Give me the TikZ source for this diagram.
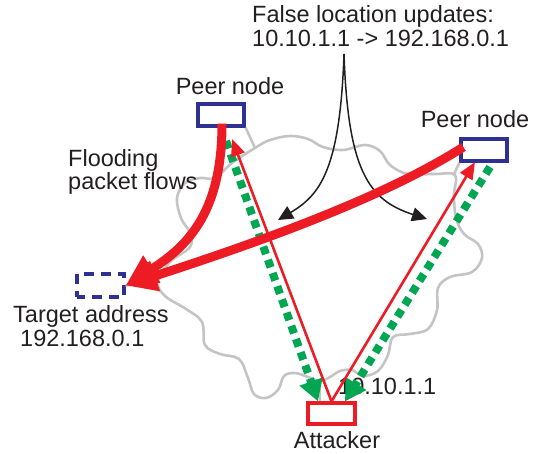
\documentclass[tikz,border=0pt]{standalone}
\usepackage{fontspec}
\setmainfont{Liberation Sans}
\usetikzlibrary{arrows.meta}
\definecolor{floodred}{HTML}{ED1C24}
\definecolor{ackgreen}{HTML}{00A651}
\definecolor{peerblue}{HTML}{2E3192}
\definecolor{cloudgray}{HTML}{C4C4C4}
\definecolor{ink}{HTML}{231F20}
\begin{document}
\begin{tikzpicture}[x=1pt,y=-1pt,
  txt/.style={font=\fontsize{23.5}{24}\selectfont, text=ink, inner sep=0pt},
  peerbox/.style={draw=peerblue, line width=3.2pt, fill=white, minimum width=46pt, minimum height=22pt, inner sep=0pt},
  targetbox/.style={draw=peerblue, line width=3.2pt, dash pattern=on 10pt off 7pt, dash phase=2pt, minimum width=47pt, minimum height=23pt, inner sep=0pt},
  attackbox/.style={draw=floodred, line width=3.2pt, fill=white, minimum width=47pt, minimum height=21pt, inner sep=0pt},
  cloudline/.style={draw=cloudgray, line width=2.6pt},
  update/.style={draw=ink, line width=1.5pt, -{Triangle[length=15pt,width=14pt]}},
  reply/.style={draw=ackgreen, line width=8pt, dash pattern=on 8pt off 6pt, -{Triangle[length=21pt,width=23pt]}},
  spoof/.style={draw=floodred, line width=2.6pt, -{Triangle[length=17pt,width=14pt]}},
  flood/.style={draw=floodred, line width=9pt, -{Triangle[length=31pt,width=30pt]}}
]
\useasboundingbox (0,0) rectangle (541,454);

% overlay network outline
\draw[cloudline] plot[smooth cycle, tension=0.6] coordinates {
  (215,178) (232,163) (255,148) (270,140) (290,136) (308,139) (323,147)
  (343,150) (365,145) (380,151) (390,165) (408,174) (435,174) (455,175)
  (454,195) (456,218) (464,234) (478,244) (482,258) (472,272) (450,277)
  (438,288) (437,310) (428,329) (410,334) (393,337) (388,355) (378,371)
  (363,376) (352,370) (340,371) (330,377) (320,381) (308,377) (295,373)
  (284,376) (278,390) (266,398) (254,394) (248,378) (239,359) (220,354)
  (205,345) (202,322) (186,309) (165,296) (158,282) (170,262) (190,247)
  (190,233) (181,218) (177,198) (185,183) (200,178)};
\coordinate (c1) at (255,148);
\coordinate (c2) at (454,174);
\coordinate (c3) at (158,282);
\coordinate (c4) at (320,381);

% nodes
\node[peerbox] (p1) at (221,115) {};
\node[peerbox] (p2) at (484,150) {};
\node[targetbox] (t) at (100.5,285.5) {};
\node[attackbox] (a) at (331.5,413.5) {};

% attachments to the overlay
\draw[cloudline] (p1.south east) -- (c1);
\draw[cloudline] (p2.south west) -- (c2);
\draw[cloudline] (t.east) -- (c3);
\draw[cloudline] (c4) -- (a.north -| c4);

% labels
\node[txt, anchor=base] (l1) at (230,95) {Peer node};
\node[txt, anchor=base] (l2) at (475,128) {Peer node};
\node[txt, anchor=base west] (u1) at (252,23) {False location updates:};
\node[txt, anchor=base west] (u2) at (252,47) {10.10.1.1 -> 192.168.0.1};
\node[txt, anchor=base west] (f1) at (68,167) {Flooding};
\node[txt, anchor=base west] (f2) at (68,190) {packet flows};
\node[txt, anchor=base west] (t1) at (13,323) {Target address};
\node[txt, anchor=base west] (t2) at (20,347) {192.168.0.1};
\node[txt, anchor=base west] (ip) at (338,394) {10.10.1.1};
\node[txt, anchor=base] (al) at (337,448) {Attacker};

% false location updates
\coordinate (u0) at (344,54);
\coordinate (h1) at (278,220);
\coordinate (h2) at (427,219);
\draw[update] (u0) .. controls (340,170) and (320,195) .. (h1);
\draw[update] (u0) .. controls (348,170) and (368,200) .. (h2);

% replies towards the attacker
\coordinate (g1) at (226,141);
\coordinate (g2) at (490,167);
\draw[reply] (g1) -- (a.north west -| 318,0);
\draw[reply] (g2) -- (a.north east -| 345,0);

% spoofed updates from the attacker
\coordinate (r1) at (232,139);
\coordinate (r2) at (475,162);
\draw[spoof] (a.north) -- (r1);
\draw[spoof] (a.north) -- (r2);

% flooding flows to the target
\draw[flood] (p1.south) ++(1,-4) .. controls (222,210) and (190,245) .. (t.east);
\draw[flood] (p2.west) ++(4,-3) .. controls (380,200) and (250,245) .. (t.east);
\end{tikzpicture}
\end{document}
